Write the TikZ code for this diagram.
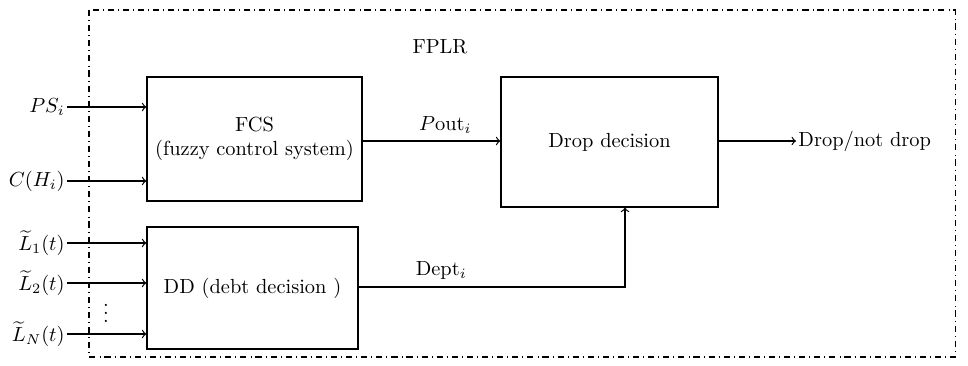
\documentclass[tikz,border=0pt]{standalone}
\usepackage{amsmath}
\newlength\uu
\setlength\uu{0.49pt}
\begin{document}
\begin{tikzpicture}[x=\uu,y=-\uu,
  blk/.style={draw,line width=0.6pt,inner sep=0pt,align=center},
  conn/.style={->,line width=0.6pt},
  lbl/.style={inner sep=1pt}]
\useasboundingbox (0,0) rectangle (968,366);
\draw[dash dot,line width=0.5pt] (89,10) rectangle (955,357);
\node (fplr) at (440,47) {FPLR};
\node[blk,minimum width=215\uu,minimum height=124\uu] (fcs) at (254.5,139) {FCS\\(fuzzy control system)};
\node[blk,minimum width=211\uu,minimum height=122\uu] (dd) at (252.5,288) {DD (debt decision )};
\node[blk,minimum width=217\uu,minimum height=130\uu] (drop) at (609.5,142) {Drop decision};
% inputs
\node[lbl,anchor=east] (ps) at (67,107) {$PS_i$};
\node[lbl,anchor=east] (ch) at (67,181) {$C(H_i)$};
\node[lbl,anchor=east] (l1) at (67,243) {$\widetilde{L}_1(t)$};
\node[lbl,anchor=east] (l2) at (67,283) {$\widetilde{L}_2(t)$};
\node[lbl,anchor=east] (ln) at (67,334) {$\widetilde{L}_N(t)$};
\node[inner sep=0pt] (dots) at (106,307) {$\vdots$};
\draw[conn] (ps.east) -- (ps.east -| fcs.west);
\draw[conn] (ch.east) -- (ch.east -| fcs.west);
\draw[conn] (l1.east) -- (l1.east -| dd.west);
\draw[conn] (l2.east) -- (l2.east -| dd.west);
\draw[conn] (ln.east) -- (ln.east -| dd.west);
% outputs
\coordinate (po) at (fcs.east |- 0,141);
\draw[conn] (po) -- (po -| drop.west) node[pos=0.6,above] {$P\mathrm{out}_i$};
\coordinate (dp) at (dd.east |- 0,287);
\coordinate (dc) at (625,287);
\draw[conn] (dp) -- (dc) node[pos=0.31,above] {Dept$_i$} -- (dc |- drop.south);
\node[lbl,anchor=west] (out) at (796,141) {Drop/not drop};
\draw[conn] (drop.east |- out.west) -- (out.west);
\end{tikzpicture}
\end{document}
